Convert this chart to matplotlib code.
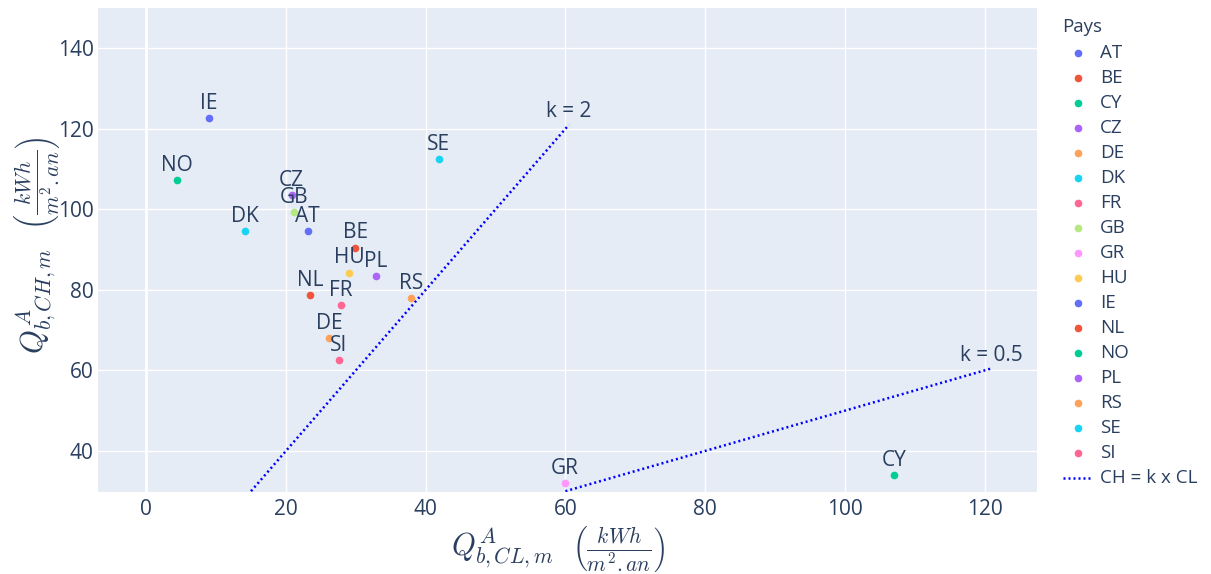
import matplotlib
matplotlib.use("Agg")
import matplotlib.pyplot as plt
from matplotlib.lines import Line2D

# data
pays = ["AT", "BE", "CY", "CZ", "DE", "DK", "FR", "GB", "GR",
        "HU", "IE", "NL", "NO", "PL", "RS", "SE", "SI"]
q_cl = [23.1, 29.9, 107.1, 20.8, 26.2, 14.1, 27.9, 21.2, 59.9,
        29.0, 9.0, 23.5, 4.4, 32.9, 37.9, 41.9, 27.6]
q_ch = [94.7, 90.5, 34.0, 103.5, 68.0, 94.5, 76.3, 99.4, 32.0,
        84.3, 122.6, 78.7, 107.2, 83.4, 78.0, 112.5, 62.6]
couleurs = ["#636EFA", "#EF553B", "#00CC96", "#AB63FA", "#FFA15A", "#19D3F3",
            "#FF6692", "#B6E880", "#FF97FF", "#FECB52", "#636EFA", "#EF553B",
            "#00CC96", "#AB63FA", "#FFA15A", "#19D3F3", "#FF6692"]

k_vals = [2, 0.5]
k_xrange = [(15, 60.5), (60, 121)]
k_labels = ["k = 2", "k = 0.5"]

TXT = "#2a3f5f"
plt.rcParams["font.family"] = ["Open Sans", "DejaVu Sans"]
plt.rcParams["mathtext.fontset"] = "cm"
DOT = (0, (0.8, 1.2))
W, H = 1211, 574

fig = plt.figure(figsize=(W / 100, H / 100), dpi=100)
ax = fig.add_axes([98 / W, 1 - 492 / H, 939 / W, 484 / H])
ax.set_facecolor("#E5ECF6")
for s in ax.spines.values():
    s.set_visible(False)

for name, x, y, c in zip(pays, q_cl, q_ch, couleurs):
    ax.plot([x], [y], "o", color=c, markersize=4.5, zorder=3)
    ax.annotate(name, (x, y), xytext=(0, 3), textcoords="offset points",
                ha="center", va="bottom", fontsize=15, color=TXT, zorder=4)

for k, (x0, x1), lab in zip(k_vals, k_xrange, k_labels):
    ax.plot([x0, x1], [k * x0, k * x1], linestyle=DOT, color="blue",
            linewidth=1.8, zorder=2)
    ax.annotate(lab, (x1, k * x1), xytext=(0, 2), textcoords="offset points",
                ha="center", va="bottom", fontsize=15, color=TXT, zorder=4)

ax.set_xlim(-6.9, 127.5)
ax.set_ylim(29.8, 150)
ax.set_xticks(range(0, 121, 20))
ax.set_yticks(range(40, 141, 20))
ax.grid(True, color="white", linewidth=1)
ax.axvline(0, color="white", linewidth=2, zorder=1)
ax.set_axisbelow(True)
ax.tick_params(length=0, labelsize=15, labelcolor=TXT)
ax.tick_params(axis="x", pad=5)
ax.tick_params(axis="y", pad=3)

# axis titles
fig.text(558 / W, 1 - 549 / H,
         r"$Q^{A}_{b,CL,m}\ \ \left(\frac{kWh}{m^2.an}\right)$",
         fontsize=22, color=TXT, ha="center", va="center")
fig.text(38 / W, 1 - 245 / H,
         r"$Q^{A}_{b,CH,m}\ \ \left(\frac{kWh}{m^2.an}\right)$",
         fontsize=22, color=TXT, ha="center", va="center", rotation=90)

# legend, laid out like the plotly one
fig.text(1062 / W, 1 - 27 / H, "Pays", fontsize=13.5, color=TXT,
         ha="left", va="center")
for i, (name, c) in enumerate(zip(pays, couleurs)):
    yy = 1 - (53 + 25 * i) / H
    fig.add_artist(Line2D([1078 / W], [yy], marker="o", color=c,
                          markersize=4.5, transform=fig.transFigure))
    fig.text(1100 / W, yy, name, fontsize=13.5, color=TXT,
             ha="left", va="center")
yy = 1 - (53 + 25 * len(pays)) / H
fig.add_artist(Line2D([1063 / W, 1091 / W], [yy, yy], linestyle=DOT,
                      color="blue", linewidth=1.8, transform=fig.transFigure))
fig.text(1100 / W, yy, "CH = k x CL", fontsize=13.5, color=TXT,
         ha="left", va="center")

fig.savefig("out.png", dpi=100)
